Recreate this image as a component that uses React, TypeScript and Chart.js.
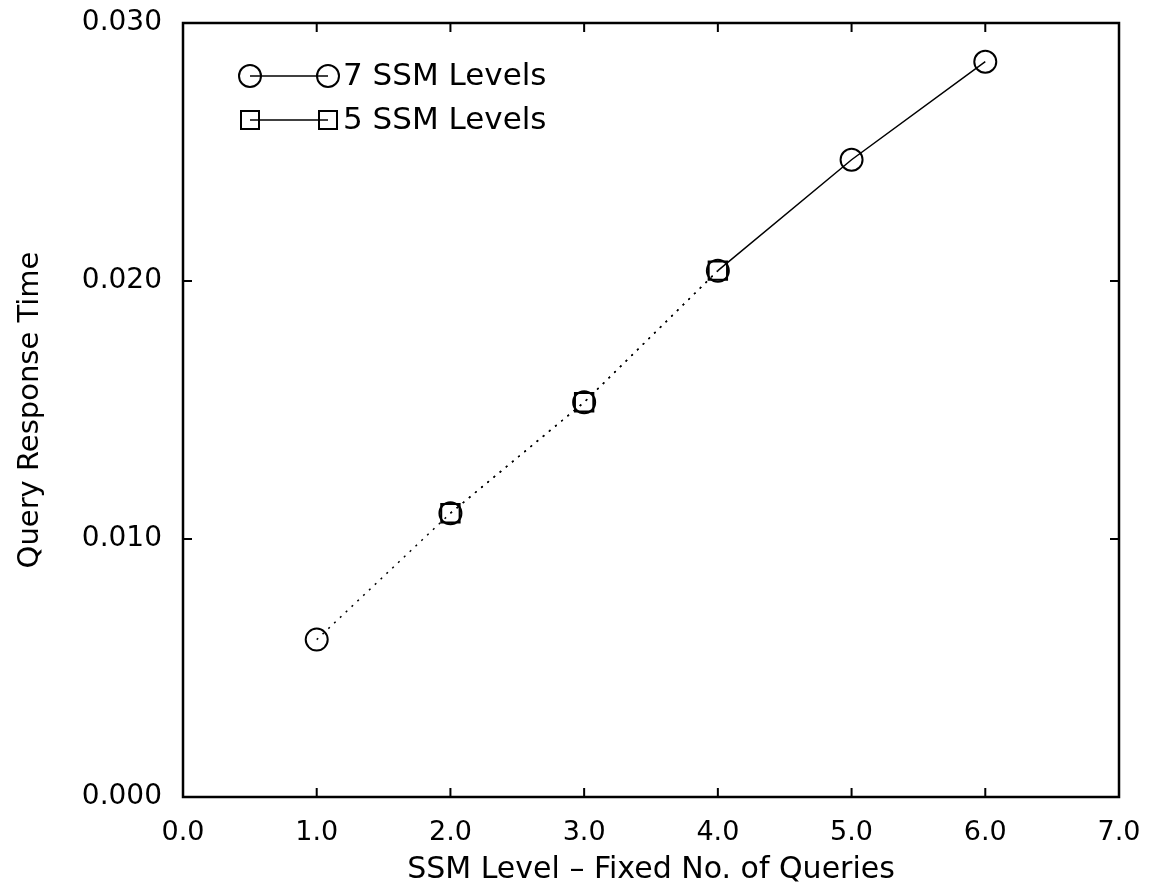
import React, { useEffect, useRef } from "react";
import { Chart, registerables } from "chart.js";

Chart.register(...registerables);

const xLevels = [1, 2, 3, 4, 5, 6];
const sevenLevels = [0.0061, 0.011, 0.0153, 0.0204, 0.0247, 0.0285];
const fiveLevelsX = [2, 3, 4];
const fiveLevels = [0.011, 0.0153, 0.0204];
const seriesNames = ["7 SSM Levels", "5 SSM Levels"];
const xTicks = [0, 1, 2, 3, 4, 5, 6, 7];
const yTicks = [0, 0.01, 0.02, 0.03];
const xTitle = "SSM Level \u2013 Fixed No. of Queries";
const yTitle = "Query Response Time";

const FONT = "'DejaVu Sans', 'Liberation Sans', Arial, sans-serif";

const framePlugin = {
  id: "frameTicks",
  afterDraw(chart: any) {
    const { ctx, chartArea } = chart;
    const { left, right, top, bottom } = chartArea;
    const xs = chart.scales.x;
    const ys = chart.scales.y;
    ctx.save();
    ctx.strokeStyle = "#000";
    ctx.lineWidth = 2.5;
    ctx.strokeRect(left, top, right - left, bottom - top);
    ctx.lineWidth = 2;
    const tl = 9;
    xTicks.forEach((v) => {
      const px = xs.getPixelForValue(v);
      ctx.beginPath();
      ctx.moveTo(px, bottom);
      ctx.lineTo(px, bottom - tl);
      ctx.moveTo(px, top);
      ctx.lineTo(px, top + tl);
      ctx.stroke();
    });
    yTicks.forEach((v) => {
      const py = ys.getPixelForValue(v);
      ctx.beginPath();
      ctx.moveTo(left, py);
      ctx.lineTo(left + tl, py);
      ctx.moveTo(right, py);
      ctx.lineTo(right - tl, py);
      ctx.stroke();
    });

    // legend
    const lx1 = left + 67;
    const lx2 = left + 145;
    const rows = [top + 53, top + 97];
    ctx.font = `31px ${FONT}`;
    ctx.textBaseline = "middle";
    ctx.textAlign = "left";
    rows.forEach((ry, i) => {
      ctx.lineWidth = 1.5;
      ctx.beginPath();
      ctx.moveTo(lx1, ry);
      ctx.lineTo(lx2, ry);
      ctx.stroke();
      ctx.lineWidth = 2;
      [lx1, lx2].forEach((cx) => {
        ctx.beginPath();
        if (i === 0) {
          ctx.arc(cx, ry, 11, 0, Math.PI * 2);
        } else {
          ctx.rect(cx - 9, ry - 9, 18, 18);
        }
        ctx.stroke();
      });
      ctx.fillStyle = "#000";
      ctx.fillText(seriesNames[i], lx2 + 15, ry + 1);
    });
    ctx.restore();
  },
};

export default function App() {
  const ref = useRef<HTMLCanvasElement | null>(null);
  useEffect(() => {
    if (!ref.current) return;
    const dashBefore4 = (c: any) => (c.p0.parsed.x < 4 ? [2, 6] : undefined);
    const chart = new Chart(ref.current, {
      type: "line",
      data: {
        datasets: [
          {
            label: seriesNames[0],
            data: xLevels.map((x, i) => ({ x, y: sevenLevels[i] })),
            borderColor: "#000",
            backgroundColor: "rgba(0,0,0,0)",
            borderWidth: 1.5,
            pointStyle: "circle",
            pointRadius: 11,
            pointBorderWidth: 2,
            pointBorderColor: "#000",
            pointBackgroundColor: "rgba(0,0,0,0)",
            segment: { borderDash: dashBefore4 },
          },
          {
            label: seriesNames[1],
            data: fiveLevelsX.map((x, i) => ({ x, y: fiveLevels[i] })),
            borderColor: "#000",
            backgroundColor: "rgba(0,0,0,0)",
            borderWidth: 1.5,
            borderDash: [2, 6],
            pointStyle: "rect",
            pointRadius: 13,
            pointBorderWidth: 2,
            pointBorderColor: "#000",
            pointBackgroundColor: "rgba(0,0,0,0)",
          },
        ],
      },
      options: {
        responsive: false,
        animation: false,
        layout: { padding: { top: 23, right: 36, left: 0, bottom: 0 } },
        plugins: { legend: { display: false }, tooltip: { enabled: false } },
        scales: {
          x: {
            type: "linear",
            min: 0,
            max: 7,
            afterBuildTicks: (s: any) => {
              s.ticks = xTicks.map((v) => ({ value: v }));
            },
            afterFit: (s: any) => {
              s.height = 91;
              s.paddingLeft = 0;
              s.paddingRight = 0;
            },
            grid: { display: false, drawTicks: false },
            border: { display: false },
            ticks: {
              color: "#000",
              font: { family: FONT, size: 27 },
              padding: 20,
              maxRotation: 0,
              autoSkip: false,
              callback: (v: any) => Number(v).toFixed(1),
            },
            title: {
              display: true,
              text: xTitle,
              color: "#000",
              font: { family: FONT, size: 30 },
              padding: { top: 0, bottom: 0 },
            },
          },
          y: {
            type: "linear",
            min: 0,
            max: 0.03,
            afterBuildTicks: (s: any) => {
              s.ticks = yTicks.map((v) => ({ value: v }));
            },
            afterFit: (s: any) => {
              s.width = 183;
              s.paddingTop = 0;
              s.paddingBottom = 0;
            },
            grid: { display: false, drawTicks: false },
            border: { display: false },
            ticks: {
              color: "#000",
              font: { family: FONT, size: 28 },
              padding: 21,
              autoSkip: false,
              callback: (v: any) => Number(v).toFixed(3),
            },
            title: {
              display: true,
              text: yTitle,
              color: "#000",
              font: { family: FONT, size: 29 },
              padding: { top: 13, bottom: 0 },
            },
          },
        },
      },
      plugins: [framePlugin],
    });
    return () => chart.destroy();
  }, []);
  return (
    <div style={{ position: "fixed", left: 0, top: 0, width: 1155, height: 888, background: "#fff" }}>
      <canvas ref={ref} width={1155} height={888} style={{ width: 1155, height: 888 }} />
    </div>
  );
}
